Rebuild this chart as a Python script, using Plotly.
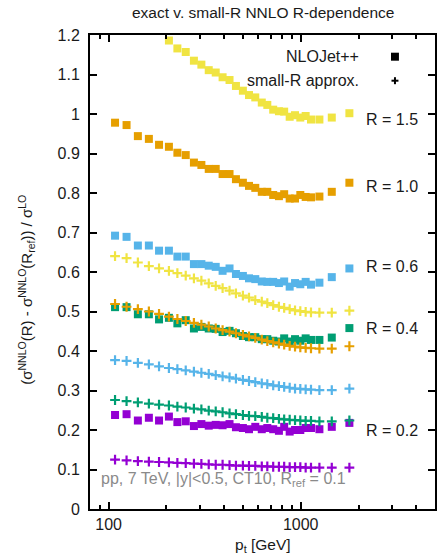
import math
import plotly.graph_objects as go

# ---- data ----
pt = [108, 124, 142, 162, 183, 206, 228, 252, 278, 304, 332, 361, 392, 426, 460,
      500, 538, 580, 627, 670, 719, 770, 820, 876, 934, 995, 1061, 1131, 1251, 1451, 1792]

radii = ["0.2", "0.4", "0.6", "1.0", "1.5"]
colors = ["#9400D3", "#009E73", "#56B4E9", "#E69F00", "#F0E442"]

nlojet_R02 = [0.238, 0.240, 0.224, 0.231, 0.224, 0.234, 0.220, 0.222, 0.210, 0.215, 0.211, 0.213,
              0.212, 0.215, 0.207, 0.205, 0.202, 0.208, 0.202, 0.205, 0.202, 0.198, 0.208, 0.196,
              0.200, 0.200, 0.205, 0.205, 0.202, 0.208, 0.218]
nlojet_R04 = [0.511, 0.511, 0.493, 0.493, 0.480, 0.484, 0.470, 0.478, 0.457, 0.461, 0.457, 0.456,
              0.448, 0.451, 0.445, 0.438, 0.435, 0.435, 0.430, 0.430, 0.426, 0.424, 0.432, 0.424,
              0.430, 0.426, 0.432, 0.428, 0.428, 0.434, 0.458]
nlojet_R06 = [0.692, 0.689, 0.667, 0.667, 0.654, 0.654, 0.639, 0.639, 0.620, 0.620, 0.616, 0.613,
              0.603, 0.609, 0.595, 0.590, 0.584, 0.582, 0.576, 0.575, 0.575, 0.572, 0.576, 0.563,
              0.572, 0.569, 0.575, 0.568, 0.573, 0.587, 0.609]
nlojet_R10 = [0.978, 0.972, 0.944, 0.937, 0.922, 0.917, 0.902, 0.896, 0.877, 0.871, 0.861, 0.861,
              0.848, 0.848, 0.835, 0.826, 0.818, 0.813, 0.803, 0.803, 0.795, 0.792, 0.797, 0.786,
              0.786, 0.795, 0.790, 0.789, 0.791, 0.803, 0.826]
nlojet_R15 = [1.33, 1.30, 1.27, 1.245, 1.22, 1.186, 1.166, 1.157, 1.135, 1.125, 1.111, 1.105,
              1.093, 1.086, 1.071, 1.059, 1.048, 1.042, 1.029, 1.023, 1.011, 1.007, 1.006, 0.993,
              0.997, 0.991, 0.995, 0.986, 0.986, 0.991, 1.002]

smallR_R02 = [0.125, 0.123, 0.121, 0.120, 0.119, 0.118, 0.117, 0.116, 0.115, 0.114, 0.113, 0.112,
              0.112, 0.111, 0.110, 0.110, 0.109, 0.109, 0.108, 0.108, 0.107, 0.107, 0.107, 0.106,
              0.106, 0.106, 0.105, 0.105, 0.105, 0.105, 0.105]
smallR_R04 = [0.276, 0.273, 0.270, 0.267, 0.264, 0.262, 0.259, 0.257, 0.254, 0.252, 0.249, 0.247,
              0.245, 0.242, 0.240, 0.238, 0.236, 0.235, 0.233, 0.231, 0.230, 0.228, 0.227, 0.226,
              0.225, 0.224, 0.223, 0.223, 0.222, 0.222, 0.224]
smallR_R06 = [0.377, 0.375, 0.370, 0.366, 0.361, 0.357, 0.354, 0.351, 0.348, 0.345, 0.342, 0.339,
              0.336, 0.333, 0.330, 0.327, 0.324, 0.321, 0.318, 0.316, 0.313, 0.311, 0.309, 0.307,
              0.305, 0.304, 0.303, 0.302, 0.301, 0.301, 0.305]
smallR_R10 = [0.519, 0.512, 0.506, 0.500, 0.494, 0.487, 0.481, 0.476, 0.471, 0.467, 0.462, 0.457,
              0.453, 0.449, 0.445, 0.441, 0.437, 0.433, 0.429, 0.425, 0.422, 0.419, 0.416, 0.413,
              0.411, 0.409, 0.408, 0.407, 0.406, 0.406, 0.412]
smallR_R15 = [0.640, 0.635, 0.624, 0.615, 0.609, 0.603, 0.597, 0.591, 0.584, 0.578, 0.571, 0.565,
              0.559, 0.553, 0.546, 0.540, 0.535, 0.529, 0.525, 0.521, 0.516, 0.512, 0.509, 0.506,
              0.503, 0.501, 0.499, 0.498, 0.497, 0.497, 0.502]

nlojet = [nlojet_R02, nlojet_R04, nlojet_R06, nlojet_R10, nlojet_R15]
smallR = [smallR_R02, smallR_R04, smallR_R06, smallR_R10, smallR_R15]
label_y = [0.200, 0.457, 0.613, 0.816, 0.987]

x_major = [100, 1000]
x_minor = [90, 200, 300, 400, 500, 600, 700, 800, 900, 2000, 3000, 4000]

FONT = "Liberation Sans"
FS = 16
TXT = "#1a1a1a"

fig = go.Figure()
for r, col, sq, cr in zip(radii, colors, nlojet, smallR):
    fig.add_trace(go.Scatter(x=pt, y=sq, mode="markers", showlegend=False,
                             marker=dict(symbol="square", size=8, color=col, line=dict(width=0))))
    fig.add_trace(go.Scatter(x=pt, y=cr, mode="markers", showlegend=False,
                             marker=dict(symbol="cross-thin", size=7, color=col,
                                         line=dict(width=2.2, color=col))))

# plot-area geometry helpers (paper coords)
L, R_, T, B = 89.7, 437.0, 35.0, 509.0
W, H = R_ - L, B - T
def px(x):
    return (x - L) / W
def py(y):
    return (B - y) / H

ann = []
for r, ly in zip(radii, label_y):
    ann.append(dict(x=px(422), y=ly, xref="paper", yref="y", text="R = " + r,
                    xanchor="right", yanchor="middle", showarrow=False,
                    font=dict(family=FONT, size=FS, color=TXT)))
ann.append(dict(x=px(363), y=py(56.7), xref="paper", yref="paper", text="NLOJet++",
                xanchor="right", yanchor="middle", showarrow=False,
                font=dict(family=FONT, size=FS, color=TXT)))
ann.append(dict(x=px(363), y=py(80.7), xref="paper", yref="paper", text="small-R approx.",
                xanchor="right", yanchor="middle", showarrow=False,
                font=dict(family=FONT, size=FS, color=TXT)))
ann.append(dict(x=px(99), y=py(479), xref="paper", yref="paper",
                text="pp, 7 TeV, |y|<0.5, CT10, R<sub>ref</sub> = 0.1",
                xanchor="left", yanchor="middle", showarrow=False,
                font=dict(family=FONT, size=FS, color="#8a8a8a")))
ann.append(dict(x=0.5, y=py(13), xref="paper", yref="paper",
                text="exact v. small-R NNLO R-dependence",
                xanchor="center", yanchor="middle", showarrow=False,
                font=dict(family=FONT, size=15.5, color=TXT)))
ann.append(dict(x=0.5, y=py(545), xref="paper", yref="paper",
                text="p<sub>t</sub> [GeV]",
                xanchor="center", yanchor="middle", showarrow=False,
                font=dict(family=FONT, size=15.5, color=TXT)))
ann.append(dict(x=px(25), y=py(290), xref="paper", yref="paper", textangle=-90,
                text="(σ<sup>NNLO</sup>(R) - σ<sup>NNLO</sup>(R<sub>ref</sub>)) / σ<sup>LO</sup>",
                xanchor="center", yanchor="middle", showarrow=False,
                font=dict(family=FONT, size=15, color=TXT)))

shapes = [
    dict(type="rect", xref="paper", yref="paper",
         x0=px(396.7 - 4), x1=px(396.7 + 4), y0=py(56.7 + 4), y1=py(56.7 - 4),
         fillcolor="black", line=dict(width=0)),
    dict(type="line", xref="paper", yref="paper",
         x0=px(396.7 - 3.5), x1=px(396.7 + 3.5), y0=py(80.7), y1=py(80.7),
         line=dict(color="black", width=2)),
    dict(type="line", xref="paper", yref="paper",
         x0=px(396.7), x1=px(396.7), y0=py(80.7 - 3.5), y1=py(80.7 + 3.5),
         line=dict(color="black", width=2)),
]

fig.update_layout(
    width=437, height=559,
    margin=dict(l=L, r=0, t=T, b=559 - B, pad=0),
    paper_bgcolor="white", plot_bgcolor="white",
    font=dict(family=FONT, size=FS, color=TXT),
    annotations=ann, shapes=shapes, showlegend=False,
    xaxis=dict(type="log", range=[math.log10(80), math.log10(5000)],
               tickvals=x_major, ticktext=[str(v) for v in x_major],
               ticks="inside", ticklen=7, tickwidth=1.5, tickcolor="black",
               showline=True, linewidth=2, linecolor="black", mirror="allticks",
               showgrid=False, zeroline=False,
               tickfont=dict(family=FONT, size=FS, color=TXT),
               minor=dict(tickvals=x_minor, ticks="inside", ticklen=4, tickwidth=1.5,
                          tickcolor="black", showgrid=False)),
    yaxis=dict(range=[0, 1.2], dtick=0.1, tick0=0,
               ticks="inside", ticklen=7, tickwidth=1.5, tickcolor="black",
               showline=True, linewidth=2, linecolor="black", mirror="allticks",
               showgrid=False, zeroline=False, ticklabelstandoff=5,
               tickfont=dict(family=FONT, size=FS, color=TXT)),
)

fig.write_html("out.html")
